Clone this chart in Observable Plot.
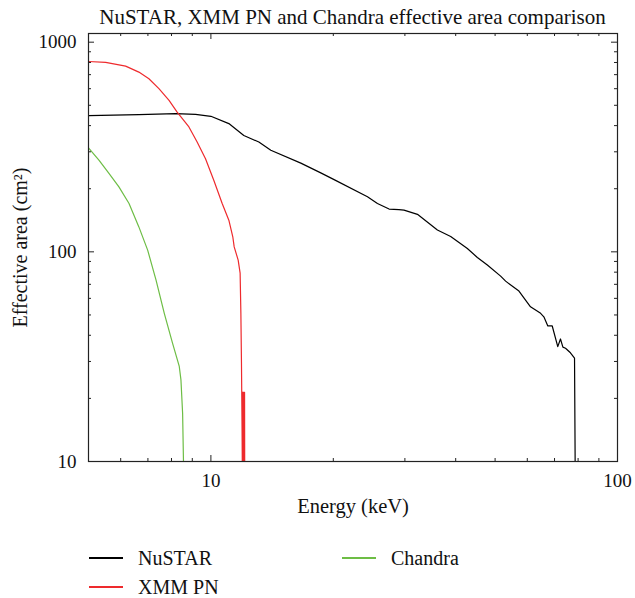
<!DOCTYPE html>
<html>
<head>
<meta charset="utf-8">
<script src="https://cdn.jsdelivr.net/npm/d3@7"></script>
<script src="https://cdn.jsdelivr.net/npm/@observablehq/plot@0.6"></script>
<style>
  body { margin: 0; background: #fff; font-family: 'Liberation Serif', 'DejaVu Serif', serif; }
  #wrap { position: relative; width: 635px; height: 598px; overflow: hidden; }
  #title { position: absolute; left: 40px; width: 625px; top: 4px; text-align: center; font-size: 21px; line-height: 26px; color: #111; white-space: nowrap; }
  #chart { position: absolute; left: 0; top: 32px; }
  .lg { position: absolute; font-size: 20px; line-height: 16px; color: #111; white-space: nowrap; }
  .sw { position: absolute; height: 2px; width: 34px; }
</style>
</head>
<body>
<div id="wrap">
  <div id="title"></div>
  <div id="chart"></div>
  <div id="legend"></div>
</div>
<script>
// ---- data ----
const seriesNames = ["NuSTAR", "XMM PN", "Chandra"];
const seriesColors = ["#000000", "#ee2a2d", "#6dbd45"];

const nustarEnergy = [5.0, 6.65, 8.19, 9.17, 10.0, 11.07, 12.05, 13.12, 14.04, 16.64, 18.63, 20.09, 24.27, 25.68, 27.43, 29.0, 29.85, 32.21, 36.06, 38.88, 42.73, 45.22, 47.85, 51.59, 53.07, 57.23, 61.1, 64.7, 65.9, 67.4, 69.1, 71.3, 72.4, 73.4, 74.5, 76.6, 78.4, 78.7];
const nustarArea   = [446, 451, 456, 453, 443, 409, 359, 334, 305, 265, 238, 221, 183, 170, 160, 159, 158, 151, 127, 118.4, 103.8, 94, 86.5, 76.6, 72.5, 65.0, 54.7, 50.9, 49.0, 44.3, 44.3, 35.3, 38.4, 35.1, 34.7, 33.0, 31.1, 9];

const xmmEnergy = [5.0, 5.51, 6.17, 6.65, 7.04, 7.45, 7.89, 8.26, 8.83, 9.25, 9.70, 10.17, 10.66, 11.07, 11.32, 11.41, 11.67, 11.80, 11.85, 11.89, 11.93, 11.95, 11.97, 12.0, 12.02, 12.05, 12.07, 12.10, 12.11];
const xmmArea   = [809, 801, 769, 720, 669, 600, 528, 464, 394, 334, 278, 219, 170, 141.6, 118, 105.6, 91.3, 79.1, 51.1, 29.5, 14.2, 9, 21.4, 9, 21.4, 9, 21.4, 21.4, 9];

const chandraEnergy = [5.0, 5.31, 5.62, 5.94, 6.29, 6.65, 6.99, 7.33, 7.68, 8.05, 8.36, 8.44, 8.52, 8.57];
const chandraArea   = [313, 273, 236, 204, 170, 131.5, 101.9, 73.3, 50.9, 36.6, 28.4, 24.5, 17.0, 9];

const xMajorTicks = [10, 100];
const xMinorTicks = [6, 7, 8, 9, 20, 30, 40, 50, 60, 70, 80, 90];
const yMajorTicks = [10, 100, 1000];
const yMinorTicks = [20, 30, 40, 50, 60, 70, 80, 90, 200, 300, 400, 500, 600, 700, 800, 900];

const titleText = "NuSTAR, XMM PN and Chandra effective area comparison";
const xLabel = "Energy (keV)";
const yLabel = "Effective area (cm²)";

// ---- build tables ----
const toRows = (E, A) => E.map((e, i) => ({e, a: A[i]}));
const series = [toRows(nustarEnergy, nustarArea), toRows(xmmEnergy, xmmArea), toRows(chandraEnergy, chandraArea)];

const W = 635, H = 498, ML = 88, MR = 18, MT = 1, MB = 69;
const innerW = W - ML - MR, innerH = H - MT - MB;
const major = 6, minor = 3;
const axisColor = "#222";

const chart = Plot.plot({
  width: W,
  height: H,
  marginLeft: ML,
  marginRight: MR,
  marginTop: MT,
  marginBottom: MB,
  style: {fontFamily: "'Liberation Serif', 'DejaVu Serif', serif", fontSize: "19px", color: "#111", background: "#fff"},
  x: {type: "log", domain: [5, 100]},
  y: {type: "log", domain: [10, 1100]},
  marks: [
    // lines
    ...series.map((rows, i) => Plot.line(rows, {x: "e", y: "a", stroke: seriesColors[i], strokeWidth: 1.2, clip: true})),
    // inward ticks on all four sides
    Plot.tickX(xMajorTicks, {x: d => d, stroke: axisColor, insetTop: innerH - major}),
    Plot.tickX(xMinorTicks, {x: d => d, stroke: axisColor, insetTop: innerH - minor}),
    Plot.tickX(xMajorTicks, {x: d => d, stroke: axisColor, insetBottom: innerH - major}),
    Plot.tickX(xMinorTicks, {x: d => d, stroke: axisColor, insetBottom: innerH - minor}),
    Plot.tickY(yMajorTicks.filter(d => d > 10), {y: d => d, stroke: axisColor, insetRight: innerW - major}),
    Plot.tickY(yMinorTicks, {y: d => d, stroke: axisColor, insetRight: innerW - minor}),
    Plot.tickY(yMajorTicks.filter(d => d > 10), {y: d => d, stroke: axisColor, insetLeft: innerW - major}),
    Plot.tickY(yMinorTicks, {y: d => d, stroke: axisColor, insetLeft: innerW - minor}),
    // frame
    Plot.frame({stroke: axisColor, strokeWidth: 1.2}),
    // tick labels
    Plot.axisY(yMajorTicks, {anchor: "left", tickSize: 0, tickPadding: 12, label: null, tickFormat: d => String(d), fontSize: 19}),
    Plot.axisX(xMajorTicks, {anchor: "bottom", tickSize: 0, tickPadding: 12, label: null, tickFormat: d => String(d), fontSize: 19}),
    // axis titles
    Plot.text([yLabel], {text: d => d, frameAnchor: "left", textAnchor: "middle", rotate: -90, dx: -68, fontSize: 20, fill: "#111"}),
    Plot.text([xLabel], {text: d => d, frameAnchor: "bottom", textAnchor: "middle", dy: 51, fontSize: 20.5, fill: "#111"})
  ]
});
document.getElementById("chart").appendChild(chart);
document.getElementById("title").textContent = titleText;

// ---- legend ----
const legendPos = [[89, 558], [89, 587], [342, 558]];
const legend = document.getElementById("legend");
seriesNames.forEach((name, i) => {
  const [lx, ly] = legendPos[i];
  const sw = document.createElement("div");
  sw.className = "sw";
  sw.style.left = lx + "px";
  sw.style.top = (ly - 1) + "px";
  sw.style.background = seriesColors[i];
  legend.appendChild(sw);
  const t = document.createElement("div");
  t.className = "lg";
  t.style.left = (lx + 49) + "px";
  t.style.top = (ly - 8) + "px";
  t.textContent = name;
  legend.appendChild(t);
});
</script>
</body>
</html>
